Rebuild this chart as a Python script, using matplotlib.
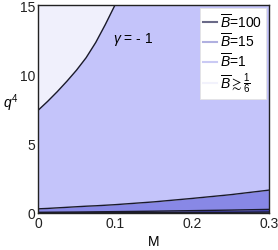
import numpy as np
import matplotlib
matplotlib.use("Agg")
import matplotlib.pyplot as plt
from matplotlib.lines import Line2D

plt.rcParams['font.family'] = ['Liberation Sans', 'DejaVu Sans']
plt.rcParams['mathtext.fontset'] = 'custom'
plt.rcParams['mathtext.rm'] = 'Liberation Sans'
plt.rcParams['mathtext.it'] = 'Liberation Sans:italic'

M = np.array([0.0, 0.0125, 0.025, 0.0375, 0.05, 0.0625, 0.075, 0.0875, 0.1,
              0.125, 0.15, 0.2, 0.25, 0.3])
q_sixth = np.array([7.4, 8.05, 8.75, 9.5, 10.3, 11.2, 12.3, 13.6, 15.0,
                    17.8, 20.8, 27.5, 35.0, 44.0])
q_B1 = np.array([0.3, 0.33, 0.37, 0.41, 0.45, 0.49, 0.52, 0.56, 0.6,
                 0.7, 0.8, 1.05, 1.32, 1.65])
q_B15 = np.array([0.05, 0.055, 0.06, 0.065, 0.07, 0.077, 0.085, 0.092, 0.1,
                  0.115, 0.13, 0.17, 0.21, 0.26])
q_B100 = np.array([0.01, 0.011, 0.012, 0.013, 0.015, 0.016, 0.018, 0.019, 0.02,
                   0.025, 0.03, 0.04, 0.05, 0.07])
labels = [r'$\overline{B}$=100', r'$\overline{B}$=15', r'$\overline{B}$=1', r'$\overline{B}\gtrsim\frac{1}{6}$']
legend_colors = ['#6a6a88', '#b0b0e0', '#cacaf4', '#f2f2fc']

fig = plt.figure(figsize=(2.78, 2.51), dpi=100)
ax = fig.add_axes([38/278, 1-214/251, 231/278, 208/251])

ymax = 15
ax.fill_between(M, q_sixth, ymax + 50, color='#f0f0fc', lw=0)
ax.fill_between(M, q_B1, q_sixth, color='#c4c4fa', lw=0)
ax.fill_between(M, q_B15, q_B1, color='#8888e6', lw=0)
ax.fill_between(M, q_B100, q_B15, color='#4848c0', lw=0)
ax.fill_between(M, 0, q_B100, color='#20205a', lw=0)
for q in [q_sixth, q_B1, q_B15, q_B100]:
    ax.plot(M, q, color='#1a1a2a', lw=1.0)

ax.set_xlim(0, 0.3)
ax.set_ylim(0, ymax)
ax.set_xticks([0, 0.1, 0.2, 0.3])
ax.set_xticklabels(['0', '0.1', '0.2', '0.3'])
ax.set_yticks([0, 5, 10, 15])
ax.set_yticklabels(['0', '5', '10', '15'])
ax.tick_params(length=0, labelsize=10, pad=2, colors='#222222')
ax.set_xlabel('M', fontsize=10, labelpad=3)
ax.set_ylabel(r'$q^4$', fontsize=10, rotation=0, labelpad=8)
ax.yaxis.set_label_coords(-0.12, 0.48)
ax.xaxis.set_label_coords(0.5, -0.1)
for s in ax.spines.values():
    s.set_color('#222222')
    s.set_linewidth(1.0)

ax.text(0.325, 0.84, r'$\gamma$ = - 1', transform=ax.transAxes, fontsize=10, ha='left', va='center')

handles = [Line2D([0], [0], color=c, lw=1.5) for c in legend_colors]
leg = ax.legend(handles, labels, loc='upper right', fontsize=10, frameon=True, fancybox=False,
                handlelength=1.0, handletextpad=0.2, borderpad=0.25, labelspacing=0.1,
                borderaxespad=0.25, edgecolor='#e4e4e4', framealpha=1)
leg.get_frame().set_linewidth(0.6)

fig.savefig('out.png', dpi=100)
